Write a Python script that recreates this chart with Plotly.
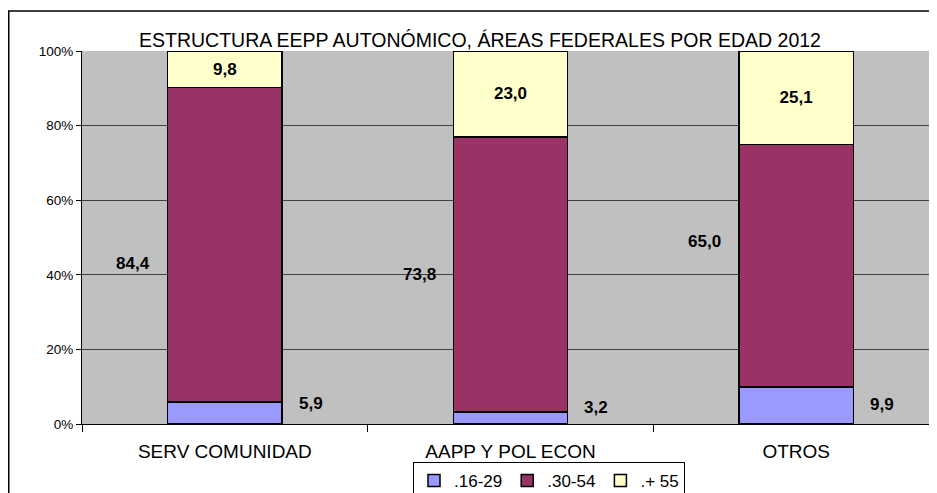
import plotly.graph_objects as go

categories = ["SERV COMUNIDAD", "AAPP Y POL ECON", "OTROS"]
series_names = [".16-29", ".30-54", ".+ 55"]
edad_16_29 = [5.9, 3.2, 9.9]
edad_30_54 = [84.4, 73.8, 65.0]
edad_55 = [9.8, 23.0, 25.1]
y_ticks = [0, 20, 40, 60, 80, 100]
y_tick_labels = ["0%", "20%", "40%", "60%", "80%", "100%"]

colors = ["#9999FF", "#993366", "#FFFFCC"]
FONT = "Liberation Sans, Arial, sans-serif"

# page body has an 8px margin: figure coords = screen coords - 8
L, T, PW, PH = 74, 43, 857, 373

def fmt(v):
    return f"{v:.1f}".replace(".", ",")

fig = go.Figure()
for name, vals, col in zip(series_names, [edad_16_29, edad_30_54, edad_55], colors):
    fig.add_trace(go.Bar(
        x=categories, y=vals, name=name,
        marker=dict(color=col, line=dict(color="black", width=1.5)),
        width=0.4,
    ))

# the top segment label sits inside the bar
fig.data[2].update(text=[fmt(v) for v in edad_55], textposition="inside",
                   insidetextanchor="middle",
                   textfont=dict(family=FONT, size=17, color="black", weight="bold"))

# label placement (style) for the other two series, as in the original chart
mid_label_dx = -0.32
mid_label_y = [43, 40, 49]
low_label_dx = 0.30
low_label_y = [5.4, 4.3, 5.1]

annotations = []
for i in range(len(categories)):
    annotations.append(dict(x=i + mid_label_dx, y=mid_label_y[i], xref="x", yref="y",
                            text="<b>" + fmt(edad_30_54[i]) + "</b>", showarrow=False,
                            font=dict(family=FONT, size=17, color="black")))
    annotations.append(dict(x=i + low_label_dx, y=low_label_y[i], xref="x", yref="y",
                            text="<b>" + fmt(edad_16_29[i]) + "</b>", showarrow=False,
                            font=dict(family=FONT, size=17, color="black")))

annotations.append(dict(x=(471.5 - L) / PW, y=1 + (T - 32) / PH, xref="paper", yref="paper",
                        text="ESTRUCTURA EEPP AUTONÓMICO, ÁREAS FEDERALES POR EDAD 2012",
                        showarrow=False, xanchor="center", yanchor="middle",
                        font=dict(family=FONT, size=19.5, color="black")))

fig.update_layout(
    width=937, height=493,
    margin=dict(l=L, r=937 - L - PW, t=T, b=493 - T - PH, autoexpand=False),
    paper_bgcolor="white", plot_bgcolor="#C0C0C0",
    barmode="stack", barnorm="percent",
    showlegend=True,
    legend=dict(orientation="h", x=(541 - L) / PW, xanchor="center",
                y=-(454 - (T + PH)) / PH, yanchor="top",
                bordercolor="black", borderwidth=1, bgcolor="white",
                traceorder="normal",
                font=dict(family=FONT, size=17, color="black"),
                itemwidth=30, tracegroupgap=0),
    annotations=annotations,
    shapes=[dict(type="rect", xref="paper", yref="paper",
                 x0=(0.75 - L) / PW, x1=1.05, y0=-0.3, y1=1 + (T - 3) / PH,
                 line=dict(color="black", width=1.5), fillcolor="rgba(0,0,0,0)", layer="above")],
    font=dict(family=FONT, color="black"),
)

fig.update_xaxes(range=[-0.5, 2.5], showline=True, linecolor="black", linewidth=1,
                 ticks="outside", tickson="boundaries", ticklen=7, tickcolor="black",
                 tickfont=dict(family=FONT, size=19, color="black"), showgrid=False,
                 automargin=False, ticklabelstandoff=10)
fig.update_yaxes(range=[0, 100], tickvals=y_ticks, ticktext=y_tick_labels, showline=True,
                 linecolor="black", linewidth=1, ticks="outside", ticklen=5, tickcolor="black",
                 tickfont=dict(family=FONT, size=13.5, color="black"),
                 showgrid=True, gridcolor="#404040", gridwidth=1, zeroline=False,
                 automargin=False)

fig.write_html("out.html")
